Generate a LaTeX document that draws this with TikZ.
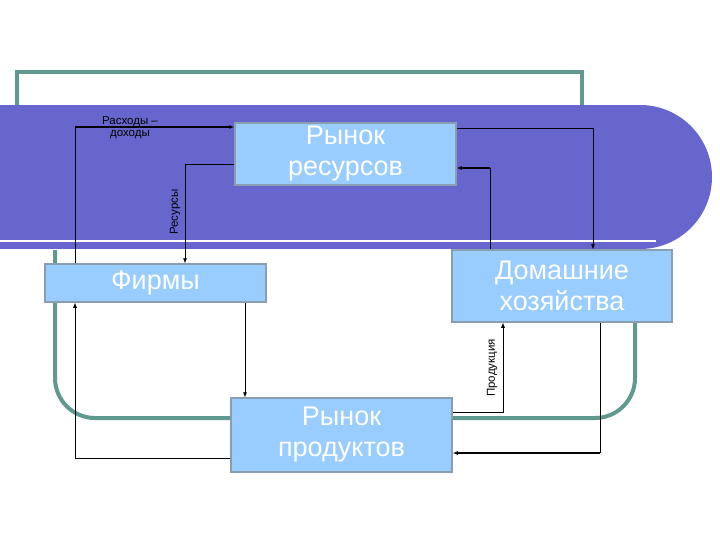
\documentclass[tikz,border=0pt]{standalone}
\usepackage{fontspec}
\setmainfont{Liberation Sans}
\usetikzlibrary{arrows.meta}
\definecolor{band}{HTML}{6666CC}
\definecolor{teal}{HTML}{5F9990}
\definecolor{box}{HTML}{99CCFF}
\begin{document}
\begin{tikzpicture}[x=1pt,y=-1pt,
  mkt/.style={draw=gray!60!box,line width=1.5pt,fill=box,text=white,font=\fontsize{27}{31}\selectfont,align=center,inner sep=0pt},
  con/.style={draw=black,line width=0.6pt,-{Latex[length=5pt,width=4pt]}},
  lbl/.style={font=\fontsize{11.5}{12}\selectfont,align=center,inner sep=1pt}]
\useasboundingbox (0,0) rectangle (720,540);
% title outline
\draw[teal,line width=4pt] (17,106) -- (17,72) -- (582,72) -- (582,106);
% blue band
\fill[band] (0,105) rectangle (640,249);
\fill[band] (640,177) circle[radius=72];
\draw[white,line width=2pt] (0,241) -- (656,241);
% lower outline
\draw[teal,line width=4pt,rounded corners=40pt] (55,250) -- (55,418) -- (635,418) -- (635,250);
% nodes
\node[mkt,minimum width=221pt,minimum height=62pt] (rr) at (345.5,154) {\raisebox{-4pt}{\parbox{200pt}{\centering Рынок\\ресурсов}}};
\node[mkt,minimum width=221pt,minimum height=38pt] (f) at (155.5,283) {\raisebox{-2pt}{Фирмы}};
\node[mkt,minimum width=220pt,minimum height=72pt] (dh) at (562,286) {\raisebox{-3pt}{\parbox{200pt}{\centering Домашние\\хозяйства}}};
\node[mkt,minimum width=221pt,minimum height=74pt] (rp) at (341.5,435) {\raisebox{-4pt}{\parbox{200pt}{\centering Рынок\\продуктов}}};
% connectors
\draw[line width=0.6pt] (f.north -| 75,0) -- (75,127);
\draw[con,line width=1.2pt] (75,127) -- (rr.west |- 0,127);
\node[lbl] (l1) at (130,128) {Расходы –\\доходы};
\draw[con] (rr.west |- 0,164) -- (185,164) -- (f.north -| 185,0);
\node[lbl,rotate=90] (l2) at (175,212) {Ресурсы};
\draw[con] (rr.east |- 0,128) -- (593,128) -- (dh.north -| 593,0);
\draw[line width=0.6pt] (dh.north -| 490,0) -- (490,168);
\draw[con,line width=1.2pt] (490,168) -- (rr.east |- 0,168);
\draw[con] (f.south -| 245,0) -- (rp.north -| 245,0);
\draw[con] (rp.west |- 0,458) -- (75,458) -- (f.south -| 75,0);
\draw[con] (rp.east |- 0,412) -- (503,412) -- (dh.south -| 503,0);
\node[lbl,rotate=90] (l3) at (492,368) {Продукция};
\draw[line width=0.6pt] (dh.south -| 600,0) -- (600,453);
\draw[con,line width=1.2pt] (600,453) -- (rp.east |- 0,453);
\end{tikzpicture}
\end{document}
